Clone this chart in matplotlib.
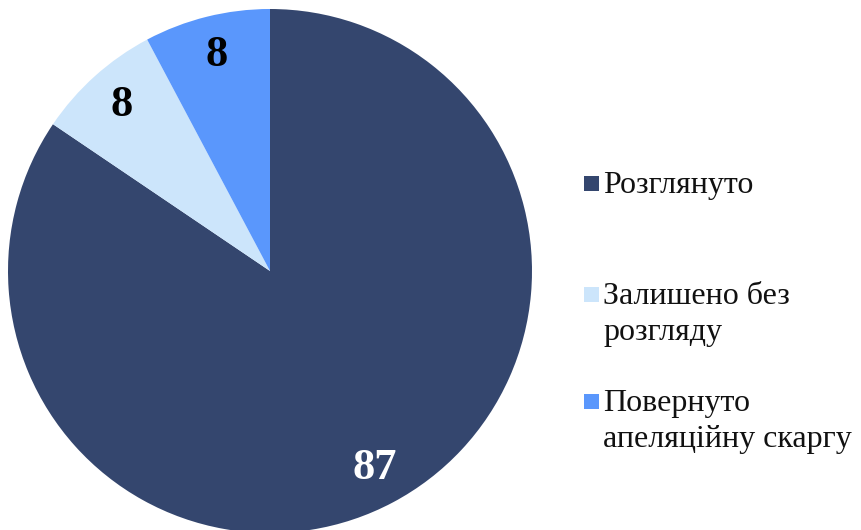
import matplotlib
matplotlib.use('Agg')
import matplotlib.pyplot as plt
import matplotlib.patches as mpatches

### Data
labels = ['Розглянуто', 'Залишено без\nрозгляду', 'Повернуто\nапеляційну скаргу']
values = [87, 8, 8]
colors = ['#34466E', '#CCE5FB', '#5A97FC']
label_colors = ['white', 'black', 'black']

plt.rcParams['font.family'] = ['Liberation Serif', 'DejaVu Serif']

W, H = 861, 530
fig = plt.figure(figsize=(W / 100, H / 100), dpi=100)

# pie centred at (270, 271) px, radius 262 px
cx, cy, r = 270, 271, 262
ax = fig.add_axes([(cx - r) / W, (H - cy - r) / H, 2 * r / W, 2 * r / H])
total = sum(values)
wedges, texts, autotexts = ax.pie(
    values, colors=colors, startangle=90, counterclock=False,
    autopct=lambda p: f'{round(p * total / 100)}', pctdistance=0.85,
    wedgeprops=dict(linewidth=0))
for t, c in zip(autotexts, label_colors):
    t.set_color(c)
    t.set_fontsize(32)
    t.set_fontweight('bold')
ax.set_xlim(-1, 1)
ax.set_ylim(-1, 1)
ax.set_aspect('equal')
ax.axis('off')

# legend drawn by hand so the square sits on the first line
tops = [177, 288, 395]
sq = 15
for lab, col, top in zip(labels, colors, tops):
    fig.patches.append(mpatches.Rectangle(
        (584 / W, (H - top - 14) / H), sq / W, sq / H,
        transform=fig.transFigure, facecolor=col, edgecolor='none'))
    fig.text(603 / W, (H - top + 6) / H, lab, fontsize=23, va='top', ha='left',
             color='#111111', linespacing=1.3)

fig.savefig('out.png', dpi=100)
